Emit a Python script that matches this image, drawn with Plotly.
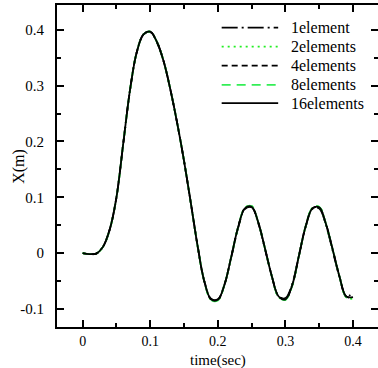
import plotly.graph_objects as go

# ---- data ----
time_s = [0.00, 0.01, 0.02, 0.03, 0.04, 0.05, 0.06, 0.07, 0.08, 0.09, 0.10,
          0.11, 0.12, 0.13, 0.14, 0.15, 0.16, 0.17, 0.18, 0.19, 0.20,
          0.21, 0.22, 0.23, 0.24, 0.25, 0.26, 0.27, 0.28, 0.29, 0.30,
          0.31, 0.32, 0.33, 0.34, 0.35, 0.36, 0.37, 0.38, 0.39, 0.40]

x_1element = [0.000, -0.002, -0.001, 0.011, 0.042, 0.100, 0.196, 0.292, 0.360, 0.392, 0.396,
              0.378, 0.343, 0.292, 0.232, 0.165, 0.090, 0.014, -0.050, -0.082, -0.083,
              -0.056, -0.007, 0.045, 0.079, 0.082, 0.053, 0.006, -0.042, -0.078, -0.081,
              -0.056, -0.004, 0.047, 0.079, 0.080, 0.050, 0.004, -0.043, -0.078, -0.071]
x_2elements = [0.000, -0.002, -0.001, 0.011, 0.042, 0.100, 0.196, 0.292, 0.360, 0.392, 0.397,
               0.378, 0.343, 0.292, 0.232, 0.165, 0.090, 0.013, -0.051, -0.084, -0.085,
               -0.056, -0.006, 0.046, 0.081, 0.084, 0.054, 0.007, -0.042, -0.079, -0.084,
               -0.059, -0.005, 0.048, 0.081, 0.083, 0.052, 0.006, -0.042, -0.079, -0.082]
x_4elements = [0.000, -0.002, -0.001, 0.011, 0.042, 0.100, 0.196, 0.292, 0.360, 0.392, 0.397,
               0.378, 0.343, 0.292, 0.232, 0.165, 0.090, 0.013, -0.051, -0.083, -0.084,
               -0.056, -0.006, 0.046, 0.080, 0.083, 0.054, 0.007, -0.042, -0.078, -0.083,
               -0.058, -0.005, 0.048, 0.080, 0.082, 0.052, 0.006, -0.042, -0.078, -0.080]
x_8elements = [0.000, -0.002, -0.001, 0.011, 0.042, 0.100, 0.196, 0.292, 0.360, 0.392, 0.397,
               0.378, 0.343, 0.292, 0.232, 0.165, 0.090, 0.013, -0.051, -0.084, -0.085,
               -0.056, -0.006, 0.046, 0.081, 0.084, 0.054, 0.007, -0.042, -0.079, -0.084,
               -0.059, -0.005, 0.048, 0.081, 0.083, 0.052, 0.006, -0.042, -0.079, -0.082]
x_16elements = [0.000, -0.002, -0.001, 0.011, 0.042, 0.100, 0.196, 0.292, 0.360, 0.392, 0.397,
                0.378, 0.343, 0.292, 0.232, 0.165, 0.090, 0.013, -0.051, -0.083, -0.084,
                -0.056, -0.006, 0.046, 0.080, 0.083, 0.054, 0.007, -0.042, -0.078, -0.083,
                -0.058, -0.005, 0.048, 0.080, 0.082, 0.052, 0.006, -0.042, -0.078, -0.079]

series_names = ["1element", "2elements", "4elements", "8elements", "16elements"]
series_values = [x_1element, x_2elements, x_4elements, x_8elements, x_16elements]

x_tick_vals = [0, 0.1, 0.2, 0.3, 0.4]
x_tick_text = ["0", "0.1", "0.2", "0.3", "0.4"]
y_tick_vals = [-0.1, 0, 0.1, 0.2, 0.3, 0.4]
y_tick_text = ["-0.1", "0", "0.1", "0.2", "0.3", "0.4"]

# ---- styles ----
colors = ["#000000", "#22ee22", "#000000", "#33ee55", "#000000"]
dashes = ["16px,4px,2px,4px", "2px,4px", "6px,4px", "9px,6px", "solid"]
widths = [1.8, 1.8, 1.8, 1.8, 1.8]

FONT = "Liberation Serif, Times New Roman, serif"

fig = go.Figure()
for name, vals, c, d, w in zip(series_names, series_values, colors, dashes, widths):
    fig.add_trace(go.Scatter(
        x=time_s, y=vals, name=name, mode="lines",
        line=dict(color=c, dash=d, width=w, shape="spline", smoothing=1.0),
        showlegend=False,
    ))

# manual legend (sample lines + real text) in paper coordinates
leg_y = [0.930, 0.871, 0.812, 0.752, 0.695]
for name, c, d, yy in zip(series_names, colors, dashes, leg_y):
    fig.add_shape(type="line", xref="paper", yref="paper",
                  x0=0.513, x1=0.689, y0=yy, y1=yy,
                  line=dict(color=c, dash=d, width=1.8))
    fig.add_annotation(xref="paper", yref="paper", x=0.722, y=yy,
                       text=name, showarrow=False, xanchor="left", yanchor="middle",
                       font=dict(family=FONT, size=16, color="#000000"))

axis_common = dict(
    showline=True, linecolor="#000000", linewidth=2, mirror="allticks",
    ticks="inside", ticklen=7, tickwidth=1.5, tickcolor="#000000",
    showgrid=False, zeroline=False,
    tickfont=dict(family=FONT, size=15, color="#000000"),
)

fig.update_xaxes(
    range=[-0.038, 0.437], tickvals=x_tick_vals, ticktext=x_tick_text,
    minor=dict(dtick=0.05, tick0=0, ticks="inside", ticklen=4, tickwidth=1.5, tickcolor="#000000"),
    **axis_common,
)
fig.update_xaxes(tickfont=dict(size=14))
fig.update_yaxes(
    range=[-0.1327, 0.4448], tickvals=y_tick_vals, ticktext=y_tick_text,
    minor=dict(dtick=0.05, tick0=0, ticks="inside", ticklen=4, tickwidth=1.5, tickcolor="#000000"),
    ticklabelstandoff=8,
    **axis_common,
)

# axis titles as positioned annotations (real text)
fig.add_annotation(xref="paper", yref="paper", x=0.5, y=-0.0745, yanchor="top",
                   text="time(sec)", showarrow=False, borderpad=0,
                   font=dict(family=FONT, size=15, color="#000000"))
fig.add_annotation(xref="paper", yref="paper", x=-0.119, y=0.5, xanchor="center",
                   text="X(m)", showarrow=False, textangle=-90,
                   font=dict(family=FONT, size=16, color="#000000"))

fig.update_layout(
    width=378, height=368,
    margin=dict(l=57, r=0, t=5, b=41, autoexpand=False),
    paper_bgcolor="#ffffff", plot_bgcolor="#ffffff",
    showlegend=False,
)

fig.write_html("out.html")
